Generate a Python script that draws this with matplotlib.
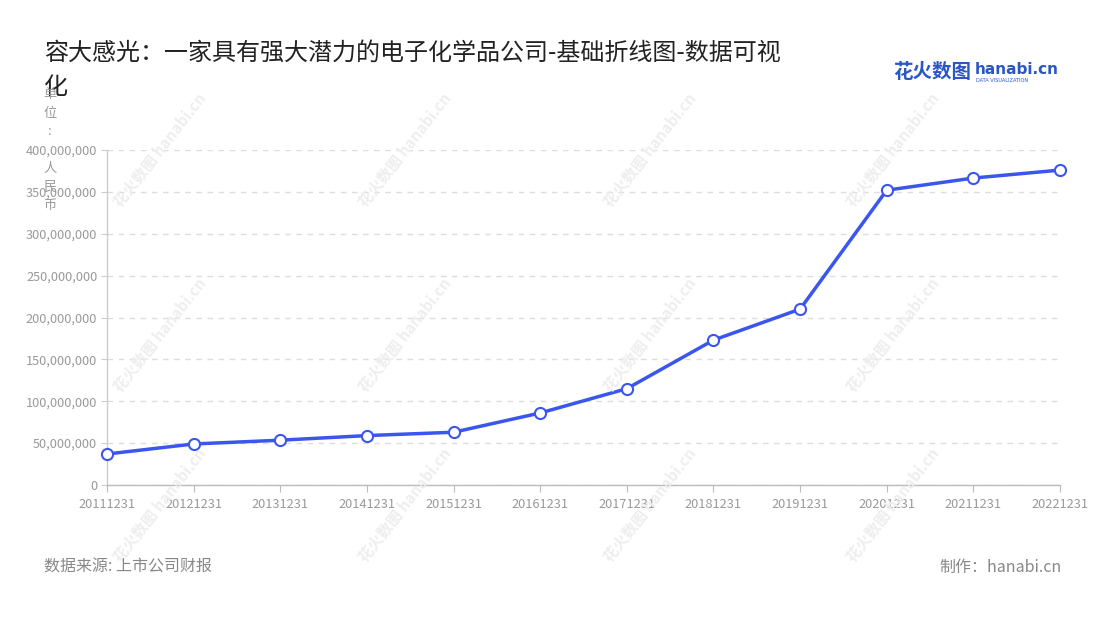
import matplotlib
matplotlib.use("Agg")
import matplotlib.pyplot as plt
from matplotlib.ticker import FuncFormatter, MultipleLocator

plt.rcParams['font.family'] = ['Noto Sans CJK SC', 'DejaVu Sans']

categories = ["20111231", "20121231", "20131231", "20141231", "20151231", "20161231",
              "20171231", "20181231", "20191231", "20201231", "20211231", "20221231"]
values = [37e6, 49e6, 53.5e6, 59e6, 63e6, 86e6, 115e6, 173e6, 210e6, 352e6, 366.5e6, 376e6]

title = "容大感光：一家具有强大潜力的电子化学品公司-基础折线图-数据可视\n化"
unit_label = "单\n位\n:\n\n人\n民\n币"
source = "数据来源: 上市公司财报"
maker = "制作：hanabi.cn"

W, H = 1100, 620
fig = plt.figure(figsize=(W / 100, H / 100), dpi=100)
fig.patch.set_facecolor("white")

ax = fig.add_axes([107 / W, 1 - 485 / H, (1060 - 107) / W, (485 - 150) / H])

# watermarks
wm_pos = [(160, 150), (405, 150), (650, 150), (893, 150),
          (160, 335), (405, 335), (650, 335), (893, 335),
          (160, 505), (405, 505), (650, 505), (893, 505)]
for (px, py) in wm_pos:
    fig.text(px / W, 1 - py / H, "花火数图 hanabi.cn", rotation=52, color="#eeeeee",
             fontsize=11, fontweight="bold", ha="center", va="center", zorder=0)

x = list(range(len(categories)))
ax.plot(x, values, color="#3a56ee", linewidth=2.5, zorder=3,
        marker="o", markersize=8, markerfacecolor="white",
        markeredgecolor="#3a56ee", markeredgewidth=1.5, clip_on=False)

ax.set_xlim(0, len(categories) - 1)
ax.set_ylim(0, 400e6)
ax.set_xticks(x)
ax.set_xticklabels(categories)
ax.yaxis.set_major_locator(MultipleLocator(50e6))
ax.yaxis.set_major_formatter(FuncFormatter(lambda v, p: f"{int(v):,}"))

ax.grid(axis="y", linestyle=(0, (4, 4)), color="#dddddd", linewidth=1)
ax.set_axisbelow(True)
for s in ["top", "right"]:
    ax.spines[s].set_visible(False)
ax.spines["left"].set_color("#cccccc")
ax.spines["bottom"].set_color("#bbbbbb")
ax.spines["left"].set_linewidth(1)
ax.spines["bottom"].set_linewidth(1)
ax.tick_params(axis="x", colors="#bbbbbb", labelcolor="#999999", labelsize=9.2,
               length=5, direction="out", pad=4)
ax.tick_params(axis="y", colors="#cccccc", labelcolor="#999999", labelsize=9.2,
               length=4, pad=3)
ax.set_facecolor("none")

# title
fig.text(44 / W, 1 - 40 / H, title, fontsize=17.3, color="#222222", ha="left", va="top",
         linespacing=1.4)

# unit label
fig.text(50 / W, 1 - 88 / H, unit_label, fontsize=9.5, color="#999999", ha="center",
         va="top", linespacing=1.55)

# logo
fig.text(893 / W, 1 - 73 / H, "花火数图", fontsize=14, color="#2a56c6", fontweight="bold",
         ha="left", va="center")
fig.text(975 / W, 1 - 70 / H, "hanabi.cn", fontsize=11, color="#2a56c6", fontweight="bold",
         ha="left", va="center", family=["DejaVu Sans"])
fig.text(976 / W, 1 - 80 / H, "DATA VISUALIZATION", fontsize=3.6, color="#2a56c6",
         ha="left", va="center", family=["DejaVu Sans"])

# footer
fig.text(44 / W, 1 - 567 / H, source, fontsize=11.5, color="#888888", ha="left", va="center")
fig.text(1062 / W, 1 - 567 / H, maker, fontsize=11.5, color="#888888", ha="right", va="center")

fig.savefig("out.png", dpi=100, facecolor="white")
